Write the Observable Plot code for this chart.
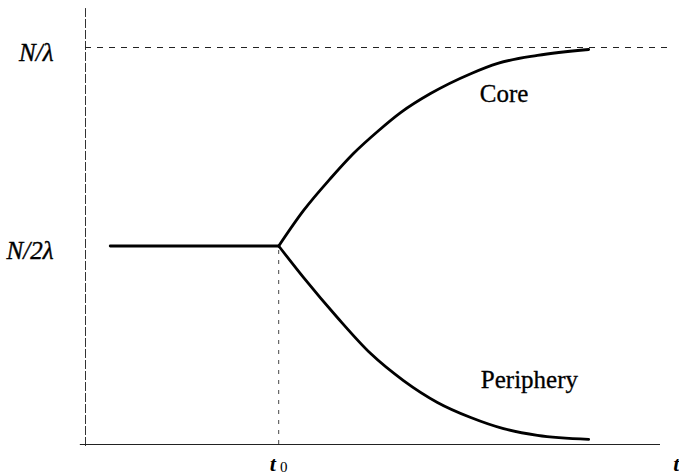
<!DOCTYPE html>
<html>
<head>
<meta charset="utf-8">
<script src="https://cdn.jsdelivr.net/npm/d3@7"></script>
<script src="https://cdn.jsdelivr.net/npm/@observablehq/plot@0.6"></script>
<style>
  html, body { margin: 0; padding: 0; background: #fff; }
  svg { display: block; }
</style>
</head>
<body>
<div id="chart"></div>
<script>
// Time values (arbitrary units, t0 = branching time)
const t0 = 3.36;
const flatT = [0.43, 3.36];
const flatY = [0.5, 0.5];

// Core share (fraction of N/λ)
const coreT = [3.36, 3.79, 4.26, 4.66, 5.10, 5.48, 6.00, 6.70, 7.17, 7.86, 8.75];
const coreY = [0.500, 0.589, 0.670, 0.733, 0.791, 0.836, 0.884, 0.934, 0.960, 0.980, 0.995];

// Periphery share (fraction of N/λ)
const periT = [3.36, 3.79, 4.38, 4.96, 5.53, 6.12, 6.70, 7.27, 7.86, 8.75];
const periY = [0.500, 0.421, 0.320, 0.229, 0.161, 0.106, 0.068, 0.040, 0.023, 0.013];

// Tick labels
const yTickValues = [1, 0.5];
const yTickLabels = ["N/λ", "N/2λ"];

// Curve labels
const curveLabels = ["Core", "Periphery"];
const curveLabelT = [7.28, 7.72];
const curveLabelY = [0.882, 0.162];

const flat = flatT.map((t, i) => ({t, y: flatY[i]}));
const core = coreT.map((t, i) => ({t, y: coreY[i]}));
const peri = periT.map((t, i) => ({t, y: periY[i]}));
const yTicks = yTickValues.map((v, i) => ({v, label: yTickLabels[i]}));
const labels = curveLabels.map((s, i) => ({s, t: curveLabelT[i], y: curveLabelY[i]}));

const serif = "'Liberation Serif', 'Times New Roman', serif";

const chart = Plot.plot({
  width: 679,
  height: 476,
  marginLeft: 85,
  marginRight: 19,
  marginTop: 47,
  marginBottom: 32,
  x: {domain: [0, 10], axis: null},
  y: {domain: [0, 1], axis: null},
  style: {fontFamily: serif, background: "#fff"},
  marks: [
    // vertical y axis (dashed)
    Plot.ruleX([0], {y1: -0.005, y2: 1.098, stroke: "#333", strokeWidth: 1, strokeDasharray: "9,2"}),
    // horizontal time axis
    Plot.ruleY([0], {x1: -0.09, x2: 10, stroke: "#222", strokeWidth: 1.2}),
    // N/λ dashed asymptote
    Plot.ruleY([1], {x1: 0, x2: 10.17, stroke: "#222", strokeWidth: 1, strokeDasharray: "6,6"}),
    // t0 dashed vertical
    Plot.ruleX([t0], {y1: 0, y2: 0.5, stroke: "#444", strokeWidth: 1, strokeDasharray: "4,6"}),
    // curves
    Plot.line(flat, {x: "t", y: "y", stroke: "#000", strokeWidth: 2.8}),
    Plot.line(core, {x: "t", y: "y", stroke: "#000", strokeWidth: 2.8, curve: "monotone-x"}),
    Plot.line(peri, {x: "t", y: "y", stroke: "#000", strokeWidth: 2.8, curve: "monotone-x"}),
    // y tick labels
    Plot.text(yTicks, {x: () => 0, y: "v", text: "label", dx: -32, dy: 5, textAnchor: "end",
      fontSize: 25, fontStyle: "italic", fill: "#000", stroke: "#000", strokeWidth: 0.4}),
    // curve labels
    Plot.text(labels, {x: "t", y: "y", text: "s", fontSize: 25, fill: "#000", stroke: "#000", strokeWidth: 0.3}),
    // t0 label
    Plot.text([t0], {x: d => d, y: () => 0, text: () => "t", dx: -6, dy: 19, fontSize: 22,
      fontStyle: "italic", fontWeight: "bold", fill: "#000"}),
    Plot.text([t0], {x: d => d, y: () => 0, text: () => "0", dx: 5, dy: 23, fontSize: 15, fill: "#000"}),
    // t label at right edge
    Plot.text([10.33], {x: d => d, y: () => 0, text: () => "t", dy: 19, fontSize: 22, textAnchor: "end",
      fontStyle: "italic", fontWeight: "bold", fill: "#000"})
  ]
});
document.getElementById("chart").appendChild(chart);
</script>
</body>
</html>
